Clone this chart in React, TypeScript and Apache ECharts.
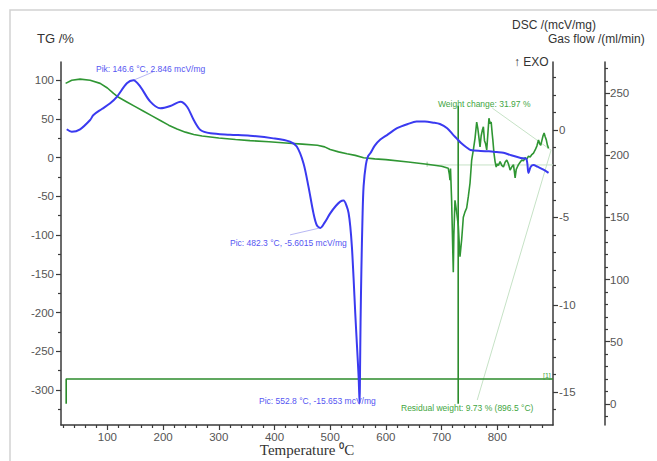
import React, { useEffect, useRef } from "react";
import * as echarts from "echarts";

// ---------- tick labels ----------
const xTicks = [100, 200, 300, 400, 500, 600, 700, 800];
const tgTicks = [-300, -250, -200, -150, -100, -50, 0, 50, 100];
const dscTicks = [-15, -10, -5, 0];
const gasTicks = [0, 50, 100, 150, 200, 250];

// ---------- TG /% (green) ----------
const tgTemp = [
  25, 36, 51, 69, 87, 100, 111, 120, 135, 150, 165, 180, 195, 210, 225, 240, 255, 270, 300, 330,
  356, 390, 420, 450, 477, 490, 500, 515, 530, 545, 560, 580, 600, 640, 674, 700, 712, 714, 715,
  716, 718, 721, 722, 724, 727, 730, 733, 736, 739, 742, 745, 748, 751, 754, 757, 760, 763, 765,
  766, 768, 769, 771, 773, 775, 777, 779, 781, 783, 785, 787, 789, 791, 792, 794, 796, 798, 800,
  802, 805, 808, 811, 814, 817, 820, 823, 826, 829, 831, 832, 834, 836, 838, 841, 844, 847, 850,
  853, 856, 859, 862, 865, 868, 871, 874, 876, 878, 880, 882, 884, 886, 888, 890, 892,
];
const tgValue = [
  96, 100, 101.5, 100, 96, 90, 83, 78, 72, 66, 60, 54, 48, 42, 37, 33, 30, 28, 25.5, 23.5,
  22, 20.5, 19, 17.5, 16, 14, 10.5, 7.5, 5, 3, 0, -1.5, -2.5, -5.5, -8.5, -11, -13.7, -22, -29,
  -14, -55, -148, -100, -55, -70, -88, -128, -106, -77, -70, -65, -50, -33, -3, 10, 25, 46, 38,
  32, 20, 14, 28, 35, 40, 22, 18, 10, 30, 51, 44, 46, 30, 23, 6, -5, -12, -8,
  -10, -5, -10, -12, -6, -3, -8, -16, -12, -9, -20, -26, -15, -12, -9, -6, -3, -4, 0,
  -2, 2, 1, 4, 6, 10, 15, 23, 18, 16, 22, 28, 32, 27, 23, 16, 12,
];

// ---------- DSC /(mcV/mg) (blue) ----------
const dscTemp = [
  27, 36, 51, 69, 75, 90, 105, 117, 135, 146.6, 159, 177, 195, 213, 231, 243, 255, 267, 285, 320,
  356, 398, 428, 440, 452, 461, 470, 476, 482.3, 490, 500, 510, 518, 524, 530, 533, 536, 539, 542,
  545, 548, 551, 552.8, 553.5, 554.5, 556, 558, 560, 564, 568, 572, 580, 590, 602, 620, 640, 655,
  670, 685, 697, 710, 720, 727, 735, 745, 752, 770, 785, 799, 811, 825, 842, 852, 856, 860, 865,
  872, 882, 892,
];
const dscValue = [
  0.04, -0.1, 0.04, 0.57, 0.86, 1.2, 1.53, 1.9, 2.67, 2.846, 2.48, 1.62, 1.24, 1.37, 1.62, 1.33, 0.57, 0, -0.19, -0.27,
  -0.33, -0.48, -0.67, -0.95, -1.9, -3.24, -4.77, -5.45, -5.6015, -5.3, -4.77, -4.35, -4.1, -4.04, -4.4, -4.75, -5.5, -6.7, -8.5,
  -10.5, -12.3, -14.1, -15.653, -14, -11, -8, -5, -3.2, -2.0, -1.5, -1.33, -0.9, -0.55, -0.29, 0.1, 0.35, 0.48,
  0.48, 0.42, 0.34, 0.1, -0.25, -0.48, -0.75, -1.0, -1.14, -1.2, -1.22, -1.26, -1.3, -1.45, -1.6, -1.65, -2.46, -2.1, -2.0,
  -2.1, -2.25, -2.45,
];

// ---------- Gas flow /(ml/min) (green) ----------
const gasTemp = [26, 26, 729.8, 729.8, 729.8, 729.8, 900];
const gasValue = [0, 20, 20, 240, 0, 20, 20];

// ---------- annotation pointer lines (data coords) ----------
const pikPointer = [[182, 3.32], [146.6, 2.846]];
const pic1Pointer = [[428, -6.0], [482.3, -5.6015]];
const stepBaseline = [[674, -9.4], [900, -9.4]];
const stepMark = [[674, -5.2], [674, -11.6]];
const weightPointer = [[791, 64], [896.5, 9.73]];
const residualPointer = [[764, -313], [896.5, 9.73]];

const zip = (a: number[], b: number[]) => a.map((v, i) => [v, b[i]]);
const range = (from: number, to: number, step: number, skip: number) => {
  const out: number[] = [];
  for (let v = from; v <= to + 1e-9; v += step) {
    if (Math.abs(v / skip - Math.round(v / skip)) > 1e-6) out.push(+v.toFixed(3));
  }
  return out;
};

const FONT = "'Liberation Sans', Arial, sans-serif";
const GREEN = "#2f9633";
const BLUE = "#3a3af0";
const AX = "#3a3a3a";
const LBL = "#555";

export default function App() {
  const ref = useRef<HTMLDivElement>(null);
  useEffect(() => {
    if (!ref.current) return;
    const chart = echarts.init(ref.current, undefined, { renderer: "svg" });

    const X_MIN = 16.7, X_MAX = 900;
    const TG_MIN = -345.3, TG_MAX = 123.6;
    const DSC_MIN = -16.88, DSC_MAX = 3.89;
    const GAS_MIN = -17.1, GAS_MAX = 275.2;

    const labelStyle = { color: LBL, fontSize: 11.5, fontFamily: FONT };

    const majorY = (min: number, max: number, ticks: number[], position: string, offset: number, margin: number) => ({
      type: "value",
      min, max, position, offset,
      splitLine: { show: false },
      axisLine: { show: true, onZero: false, lineStyle: { color: AX, width: 1.5 } },
      axisTick: { show: true, length: 5, customValues: ticks, lineStyle: { color: AX, width: 1.2 } },
      axisLabel: { show: true, customValues: ticks, margin, ...labelStyle },
    });
    const minorY = (min: number, max: number, ticks: number[], position: string, offset: number) => ({
      type: "value",
      min, max, position, offset,
      splitLine: { show: false },
      axisLine: { show: false, onZero: false },
      axisTick: { show: true, length: 3, customValues: ticks, lineStyle: { color: AX, width: 1.2 } },
      axisLabel: { show: false },
    });

    const thin = (color: string) => ({ color, width: 1 });
    const annot = (data: number[][], yAxisIndex: number, color: string) => ({
      type: "line",
      data,
      yAxisIndex,
      showSymbol: false,
      silent: true,
      lineStyle: thin(color),
      z: 1,
    });

    const text = (t: string, x: number, y: number, size: number, fill: string, family = FONT, align = "left") => ({
      type: "text",
      x, y,
      style: {
        text: t, fill, fontSize: size, fontFamily: family,
        textAlign: align, textVerticalAlign: "middle", align, verticalAlign: "middle",
      },
      z: 100,
    });

    chart.setOption({
      animation: false,
      backgroundColor: "#fff",
      grid: { left: 61, right: 104, top: 62, bottom: 36 },
      xAxis: [
        {
          type: "value", min: X_MIN, max: X_MAX, position: "bottom",
          splitLine: { show: false },
          axisLine: { show: true, onZero: false, lineStyle: { color: AX, width: 1.5 } },
          axisTick: { show: true, length: 5, customValues: xTicks, lineStyle: { color: AX, width: 1.2 } },
          axisLabel: { show: true, customValues: xTicks, margin: 6, ...labelStyle },
        },
        {
          type: "value", min: X_MIN, max: X_MAX, position: "bottom",
          splitLine: { show: false },
          axisLine: { show: false, onZero: false },
          axisTick: { show: true, length: 3, customValues: range(20, 880, 20, 100), lineStyle: { color: AX, width: 1.2 } },
          axisLabel: { show: false },
        },
      ],
      yAxis: [
        majorY(TG_MIN, TG_MAX, tgTicks, "left", 0, 7),
        minorY(TG_MIN, TG_MAX, range(-325, 125, 25, 50), "left", 0),
        majorY(DSC_MIN, DSC_MAX, dscTicks, "right", 0, 6),
        minorY(DSC_MIN, DSC_MAX, range(-16, 3, 1, 5), "right", 0),
        majorY(GAS_MIN, GAS_MAX, gasTicks, "right", 52, 5),
        minorY(GAS_MIN, GAS_MAX, range(-10, 270, 10, 50), "right", 52),
      ],
      series: [
        annot(pikPointer, 2, "#b8b8f4"),
        annot(pic1Pointer, 2, "#b8b8f4"),
        annot(stepBaseline, 0, "#c6e2c6"),
        annot(stepMark, 0, "#9ccc9c"),
        annot(weightPointer, 0, "#c6e2c6"),
        annot(residualPointer, 0, "#c6e2c6"),
        {
          name: "Gas flow", type: "line", yAxisIndex: 4,
          data: zip(gasTemp, gasValue), showSymbol: false,
          lineStyle: { color: "#2c8c2c", width: 1.6 }, z: 2,
        },
        {
          name: "TG", type: "line", yAxisIndex: 0,
          data: zip(tgTemp, tgValue), showSymbol: false,
          lineStyle: { color: GREEN, width: 1.6 }, z: 3,
        },
        {
          name: "DSC", type: "line", yAxisIndex: 2, smooth: 0.3,
          data: zip(dscTemp, dscValue), showSymbol: false,
          lineStyle: { color: BLUE, width: 2 }, z: 4,
        },
      ],
      graphic: [
        {
          type: "rect", shape: { x: 10, y: 10, width: 700, height: 520 },
          style: { fill: "none", stroke: "#d2d2d2", lineWidth: 1.5 }, z: 0, silent: true,
        },
        text("TG /%", 37, 38, 13, "#333"),
        text("DSC /(mcV/mg)", 512, 25, 12, "#333"),
        text("Gas flow /(ml/min)", 548, 39, 12, "#333"),
        text("\u2191 EXO", 514, 62, 12, "#333"),
        text("Pik: 146.6 \u00B0C, 2.846 mcV/mg", 96, 69, 8.5, "#5555f2"),
        text("Pic: 482.3 \u00B0C, -5.6015 mcV/mg", 230, 243, 8.5, "#5555f2"),
        text("Pic: 552.8 \u00B0C, -15.653 mcV/mg", 259, 401, 8.5, "#5555f2"),
        text("Weight change: 31.97 %", 438, 104, 8.5, "#3fa63f"),
        text("Residual weight: 9.73 % (896.5 \u00B0C)", 401, 408, 8.5, "#3fa63f"),
        text("[1]", 543, 375, 7, "#3fa63f"),
        text("Temperature \u2070C", 307, 450, 15, "#333", "'Liberation Serif', 'Times New Roman', serif", "center"),
      ],
    });
    return () => chart.dispose();
  }, []);
  return <div ref={ref} style={{ position: "fixed", left: 0, top: 0, width: 657, height: 461 }} />;
}
